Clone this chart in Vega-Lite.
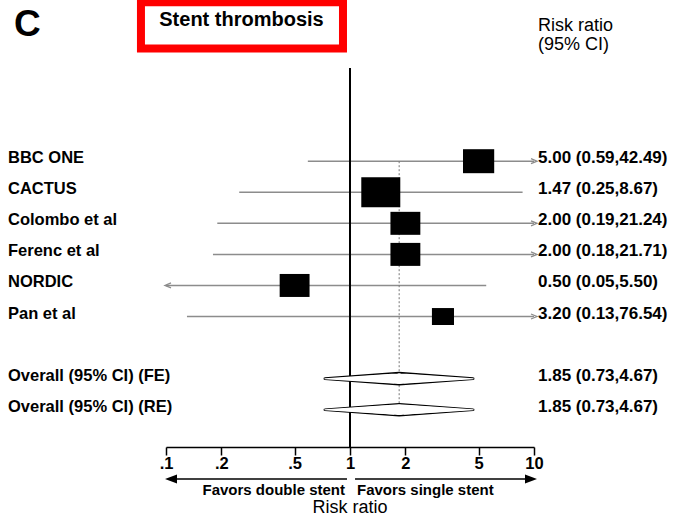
{
  "$schema": "https://vega.github.io/schema/vega-lite/v6.json",
  "width": 368,
  "height": 379,
  "autosize": {"type": "none"},
  "padding": {"left": 166, "top": 68, "right": 141, "bottom": 71},
  "background": "white",
  "config": {
    "font": "Liberation Sans",
    "view": {"stroke": null},
    "text": {"font": "Liberation Sans", "color": "black"}
  },
  "data": {
    "values": [
      {"label": "BBC ONE", "row": 1, "est": 5.00, "lower": 0.59, "upper": 42.49, "weight": 17.2, "ci": "5.00 (0.59,42.49)", "kind": "study"},
      {"label": "CACTUS", "row": 2, "est": 1.47, "lower": 0.25, "upper": 8.67, "weight": 26.9, "ci": "1.47 (0.25,8.67)", "kind": "study"},
      {"label": "Colombo et al", "row": 3, "est": 2.00, "lower": 0.19, "upper": 21.24, "weight": 15.8, "ci": "2.00 (0.19,21.24)", "kind": "study"},
      {"label": "Ferenc et al", "row": 4, "est": 2.00, "lower": 0.18, "upper": 21.71, "weight": 15.8, "ci": "2.00 (0.18,21.71)", "kind": "study"},
      {"label": "NORDIC", "row": 5, "est": 0.50, "lower": 0.05, "upper": 5.50, "weight": 15.8, "ci": "0.50 (0.05,5.50)", "kind": "study"},
      {"label": "Pan et al", "row": 6, "est": 3.20, "lower": 0.13, "upper": 76.54, "weight": 8.6, "ci": "3.20 (0.13,76.54)", "kind": "study"},
      {"label": "Overall (95% CI) (FE)", "row": 8, "est": 1.85, "lower": 0.73, "upper": 4.67, "ci": "1.85 (0.73,4.67)", "kind": "overall"},
      {"label": "Overall (95% CI) (RE)", "row": 9, "est": 1.85, "lower": 0.73, "upper": 4.67, "ci": "1.85 (0.73,4.67)", "kind": "overall"}
    ]
  },
  "layer": [
    {
      "transform": [{"filter": "datum.kind === 'study'"}],
      "mark": {"type": "rule", "color": "#8c8c8c", "strokeWidth": 1.5, "clip": true},
      "encoding": {
        "x": {
          "field": "lower", "type": "quantitative",
          "scale": {"type": "log", "domain": [0.1, 10], "nice": false},
          "axis": {
            "values": [0.1, 0.2, 0.5, 1, 2, 5, 10],
            "labelExpr": "replace(toString(datum.value), '0.', '.')",
            "title": null, "grid": false,
            "domainColor": "black", "domainWidth": 1.5,
            "tickColor": "black", "tickWidth": 1.5, "tickSize": 8,
            "labelFontSize": 16.5, "labelFontWeight": "bold", "labelColor": "black", "labelFont": "Liberation Sans",
            "labelBaseline": "alphabetic", "labelPadding": 13,
            "labelFlush": false, "labelOverlap": false
          }
        },
        "x2": {"field": "upper"},
        "y": {
          "field": "row", "type": "quantitative",
          "scale": {"domain": [-2, 10.2], "reverse": true, "nice": false, "zero": false},
          "axis": null
        }
      }
    },
    {
      "data": {"values": [{}]},
      "mark": {"type": "rule", "color": "black", "strokeWidth": 2},
      "encoding": {"x": {"datum": 1, "type": "quantitative"}}
    },
    {
      "transform": [{"filter": "datum.row === 8"}],
      "mark": {"type": "rule", "color": "#777777", "strokeWidth": 1, "strokeDash": [2, 2]},
      "encoding": {
        "x": {"field": "est", "type": "quantitative"},
        "y": {"datum": 1, "type": "quantitative"},
        "y2": {"datum": 9}
      }
    },
    {
      "transform": [{"filter": "datum.kind === 'study' && datum.upper > 10"}],
      "mark": {"type": "point", "shape": "M-3,-2.5L3,0L-3,2.5", "size": 4, "filled": false, "stroke": "#8c8c8c", "strokeWidth": 1.3, "opacity": 1},
      "encoding": {
        "x": {"datum": 10, "type": "quantitative"},
        "y": {"field": "row", "type": "quantitative"}
      }
    },
    {
      "transform": [{"filter": "datum.kind === 'study' && datum.lower < 0.1"}],
      "mark": {"type": "point", "shape": "M5,-2.5L-1,0L5,2.5", "size": 4, "filled": false, "stroke": "#8c8c8c", "strokeWidth": 1.3, "opacity": 1},
      "encoding": {
        "x": {"datum": 0.1, "type": "quantitative"},
        "y": {"field": "row", "type": "quantitative"}
      }
    },
    {
      "transform": [{"filter": "datum.kind === 'study'"}],
      "mark": {"type": "point", "shape": "M-1.3,-1H1.3V1H-1.3Z", "filled": true, "color": "black", "opacity": 1},
      "encoding": {
        "x": {"field": "est", "type": "quantitative"},
        "y": {"field": "row", "type": "quantitative"},
        "size": {"field": "weight", "type": "quantitative", "scale": {"domain": [0, 26.9], "range": [0, 900], "zero": true}, "legend": null}
      }
    },
    {
      "transform": [{"filter": "datum.kind === 'overall'"}, {"fold": ["lower", "est", "upper"], "as": ["key", "xv"]}],
      "mark": {"type": "trail", "fill": "white", "stroke": "black", "strokeWidth": 1.6, "strokeJoin": "miter", "opacity": 1},
      "encoding": {
        "x": {"field": "xv", "type": "quantitative"},
        "y": {"field": "row", "type": "quantitative"},
        "detail": {"field": "label"},
        "order": {"field": "xv", "type": "quantitative"},
        "size": {"condition": {"test": "datum.key === 'est'", "value": 12}, "value": 0}
      }
    },
    {
      "transform": [{"filter": "datum.kind === 'overall'"}, {"fold": ["lower", "est", "upper"], "as": ["key", "xv"]}],
      "mark": {"type": "trail", "fill": "white", "opacity": 1},
      "encoding": {
        "x": {"field": "xv", "type": "quantitative"},
        "y": {"field": "row", "type": "quantitative"},
        "detail": {"field": "label"},
        "order": {"field": "xv", "type": "quantitative"},
        "size": {"condition": {"test": "datum.key === 'est'", "value": 10.8}, "value": 0}
      }
    },
    {
      "mark": {"type": "text", "align": "left", "baseline": "alphabetic", "dx": -158, "dy": 2, "fontSize": 16.5, "fontWeight": "bold"},
      "encoding": {
        "x": {"datum": 0.1, "type": "quantitative"},
        "y": {"field": "row", "type": "quantitative"},
        "text": {"field": "label"}
      }
    },
    {
      "mark": {"type": "text", "align": "left", "baseline": "alphabetic", "dx": 4, "dy": 2, "fontSize": 17, "fontWeight": "bold"},
      "encoding": {
        "x": {"datum": 10, "type": "quantitative"},
        "y": {"field": "row", "type": "quantitative"},
        "text": {"field": "ci"}
      }
    },
    {
      "data": {"values": [{}]},
      "mark": {"type": "text", "text": "C", "align": "left", "baseline": "alphabetic", "dx": -152, "fontSize": 37, "fontWeight": "bold"},
      "encoding": {
        "x": {"datum": 0.1, "type": "quantitative"},
        "y": {"datum": -3.03, "type": "quantitative"}
      }
    },
    {
      "data": {"values": [{}]},
      "mark": {"type": "rect", "filled": false, "color": "#ff0000", "strokeWidth": 8},
      "encoding": {
        "x": {"datum": 0.0731, "type": "quantitative"},
        "x2": {"datum": 0.916},
        "y": {"datum": -4.12, "type": "quantitative"},
        "y2": {"datum": -2.63}
      }
    },
    {
      "data": {"values": [{}]},
      "mark": {"type": "text", "text": "Stent thrombosis", "align": "center", "baseline": "alphabetic", "dx": 75.5, "fontSize": 20, "fontWeight": "bold"},
      "encoding": {
        "x": {"datum": 0.1, "type": "quantitative"},
        "y": {"datum": -3.336, "type": "quantitative"}
      }
    },
    {
      "data": {"values": [{}]},
      "mark": {"type": "text", "text": ["Risk ratio", "(95% CI)"], "align": "left", "baseline": "alphabetic", "dx": 4, "fontSize": 18, "lineHeight": 19},
      "encoding": {
        "x": {"datum": 10, "type": "quantitative"},
        "y": {"datum": -3.19, "type": "quantitative"}
      }
    },
    {
      "data": {"values": [{}]},
      "mark": {"type": "rule", "color": "black", "strokeWidth": 1.5},
      "encoding": {
        "x": {"datum": 0.105, "type": "quantitative"},
        "x2": {"datum": 0.963},
        "y": {"datum": 11.23, "type": "quantitative"}
      }
    },
    {
      "data": {"values": [{}]},
      "mark": {"type": "rule", "color": "black", "strokeWidth": 1.5},
      "encoding": {
        "x": {"datum": 1.065, "type": "quantitative"},
        "x2": {"datum": 9.9},
        "y": {"datum": 11.23, "type": "quantitative"}
      }
    },
    {
      "data": {"values": [{}]},
      "mark": {"type": "point", "shape": "M-1,0L11,-4.5L11,4.5Z", "size": 4, "filled": true, "color": "black", "opacity": 1},
      "encoding": {
        "x": {"datum": 0.1, "type": "quantitative"},
        "y": {"datum": 11.23, "type": "quantitative"}
      }
    },
    {
      "data": {"values": [{}]},
      "mark": {"type": "point", "shape": "M3,0L-9,-4.5L-9,4.5Z", "size": 4, "filled": true, "color": "black", "opacity": 1},
      "encoding": {
        "x": {"datum": 10, "type": "quantitative"},
        "y": {"datum": 11.23, "type": "quantitative"}
      }
    },
    {
      "data": {"values": [{}]},
      "mark": {"type": "text", "text": "Favors double stent", "align": "right", "baseline": "alphabetic", "dx": -5, "fontSize": 15, "fontWeight": "bold"},
      "encoding": {
        "x": {"datum": 1, "type": "quantitative"},
        "y": {"datum": 11.745, "type": "quantitative"}
      }
    },
    {
      "data": {"values": [{}]},
      "mark": {"type": "text", "text": "Favors single stent", "align": "left", "baseline": "alphabetic", "dx": 7, "fontSize": 15, "fontWeight": "bold"},
      "encoding": {
        "x": {"datum": 1, "type": "quantitative"},
        "y": {"datum": 11.745, "type": "quantitative"}
      }
    },
    {
      "data": {"values": [{}]},
      "mark": {"type": "text", "text": "Risk ratio", "align": "center", "baseline": "alphabetic", "fontSize": 18},
      "encoding": {
        "x": {"datum": 1, "type": "quantitative"},
        "y": {"datum": 12.325, "type": "quantitative"}
      }
    }
  ]
}
